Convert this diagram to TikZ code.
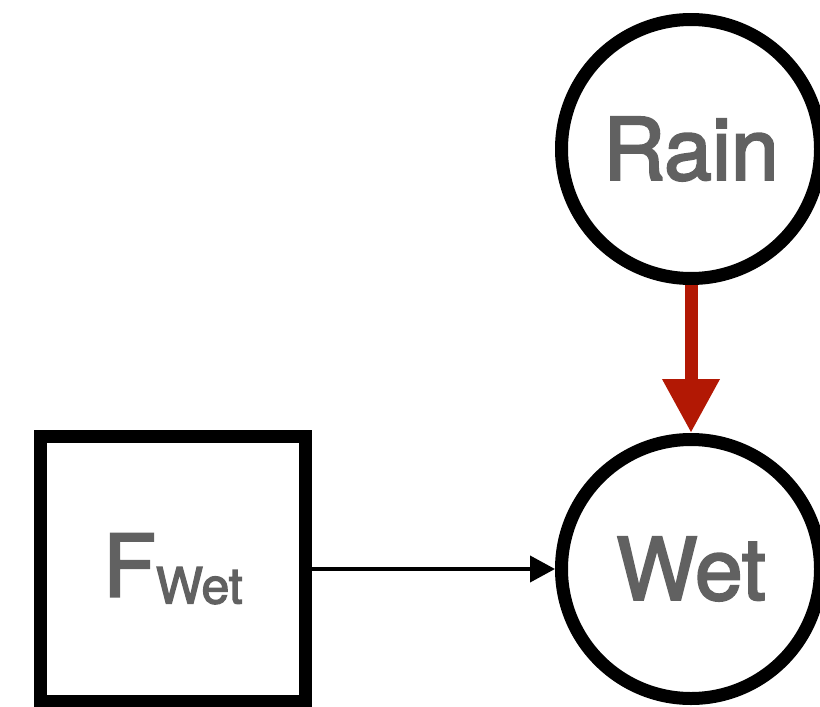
\documentclass[tikz,border=0pt]{standalone}
\usepackage{fontspec}
\setmainfont{TeX Gyre Heros}[FakeBold=2.5]
\usetikzlibrary{arrows.meta}
\definecolor{labelgray}{RGB}{97,97,97}
\definecolor{causered}{RGB}{178,24,4}
\begin{document}
\begin{tikzpicture}[x=1pt,y=-1pt,
  varnode/.style={circle,draw=black,line width=13pt,minimum size=259pt,inner sep=0pt,
    text=labelgray,font=\fontsize{86}{86}\selectfont},
  factornode/.style={rectangle,draw=black,line width=13pt,minimum size=265pt,inner sep=0pt,
    text=labelgray,font=\fontsize{86}{86}\selectfont},
  causal/.style={draw=causered,line width=13pt,-{Triangle[length=54pt,width=54pt]},causered},
  plain/.style={draw=black,line width=4pt,-{Triangle[length=25pt,width=26pt]}}]
\useasboundingbox (0,0) rectangle (820,707);
\clip (0,0) rectangle (820,707);
\node[varnode] (rain) at (691,149) {Rain};
\node[varnode] (wet) at (691,569) {Wet};
\node[factornode] (fwet) at (173,569) {F\raisebox{-7pt}{\fontsize{50}{50}\selectfont Wet}};
\draw[causal] (rain) -- (wet);
\draw[plain] (fwet) -- (wet);
\end{tikzpicture}
\end{document}
